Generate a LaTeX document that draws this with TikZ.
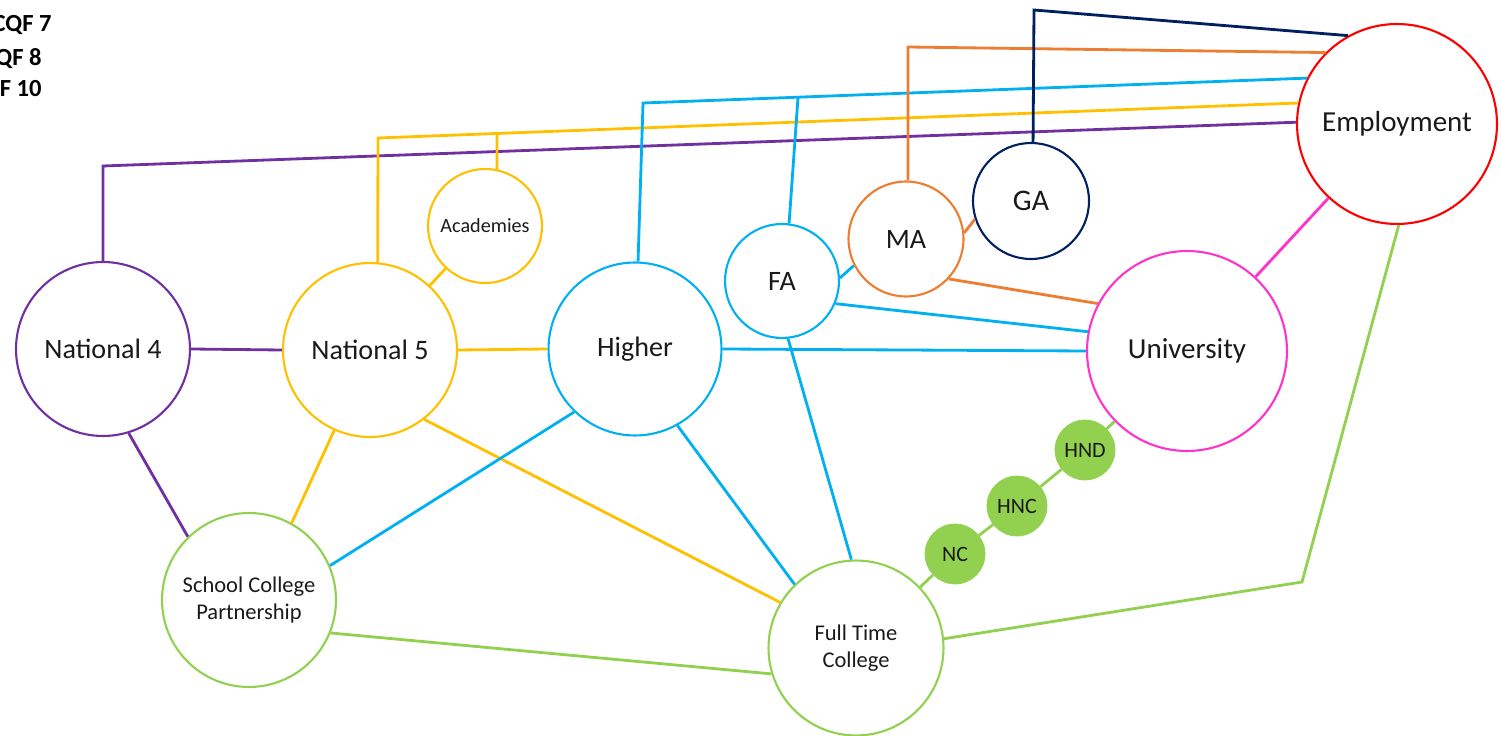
\documentclass[tikz,border=0pt]{standalone}
\usepackage{fontspec}
\setmainfont{Carlito}
\definecolor{cpurple}{HTML}{7030A0}
\definecolor{cyellow}{HTML}{FFC000}
\definecolor{cblue}{HTML}{00B0F0}
\definecolor{corange}{HTML}{ED7D31}
\definecolor{cnavy}{HTML}{002060}
\definecolor{cpink}{HTML}{FF33CC}
\definecolor{cgreen}{HTML}{92D050}
\definecolor{cred}{HTML}{FF0000}
\definecolor{ctext}{HTML}{1A1A1A}
\tikzset{
  bub/.style={circle, draw, line width=1.2pt, fill=white, inner sep=0pt, text=ctext, align=center},
  big/.style={bub, minimum size=3.48cm, font=\fontsize{16}{19}\selectfont},
  small/.style={bub, minimum size=2.28cm, font=\fontsize{16}{19}\selectfont},
  huge/.style={bub, minimum size=4.0cm, font=\fontsize{16.5}{19}\selectfont},
  qual/.style={circle, draw=cgreen, fill=cgreen, inner sep=0pt, minimum size=1.2cm, text=ctext, font=\fontsize{12.5}{15}\selectfont},
  con/.style={line width=1.6pt, line join=miter},
  scqf/.style={anchor=base east, font=\bfseries\fontsize{14}{16}\selectfont, text=black, inner sep=0pt}
}
\begin{document}
\begin{tikzpicture}[x=0.02cm, y=-0.02cm]
\useasboundingbox (0,0) rectangle (1501,736);
\clip (0,0) rectangle (1501,736);

% labels at top left (cut by the picture edge, as in the reference)
\node[scqf] (s7) at (52,32) {SCQF 7};
\node[scqf] (s8) at (42,66) {SCQF 8};
\node[scqf] (s10) at (42,97) {SCQF 10};

% nodes
\node[big, draw=cpurple] (n4) at (103,349) {National 4};
\node[big, draw=cyellow] (n5) at (370,350) {National 5};
\node[big, draw=cblue, minimum size=3.46cm] (hi) at (635,349) {Higher};
\node[small, draw=cyellow, font=\fontsize{11.5}{14}\selectfont] (acad) at (485,226) {Academies};
\node[small, draw=cblue] (fa) at (782,281) {FA};
\node[small, draw=corange, minimum size=2.3cm] (ma) at (906,239) {MA};
\node[small, draw=cnavy, minimum size=2.32cm, font=\fontsize{17}{19}\selectfont] (ga) at (1031,201) {GA};
\node[huge, draw=cred] (emp) at (1397,124) {Employment};
\node[huge, draw=cpink] (uni) at (1187,351) {University};
\node[big, draw=cgreen, font=\fontsize{12.8}{15.3}\selectfont] (scp) at (249,600) {School College\\Partnership};
\node[big, draw=cgreen, minimum size=3.5cm, font=\fontsize{12.8}{15.3}\selectfont] (ftc) at (856,648) {Full Time\\College};
\node[qual] (nc) at (955,554) {NC};
\node[qual] (hnc) at (1017,506) {HNC};
\node[qual] (hnd) at (1085,450) {HND};

% bend points
\coordinate (p1) at (103,166);
\coordinate (y1) at (378,138);
\coordinate (y2) at (497,133.5);
\coordinate (b1) at (643,103);
\coordinate (b2) at (798,97.4);
\coordinate (o1) at (908,47);
\coordinate (v1) at (1034,10);
\coordinate (g1) at (1302,582);

% purple
\draw[con, cpurple] (n4.north) -- (p1) -- (emp.179);
\draw[con, cpurple] (n4.east) -- (n5.west);
\draw[con, cpurple] (n4.-73) -- (scp.134);

% yellow
\draw[con, cyellow] (n5.85) -- (y1) -- (emp.168);
\draw[con, cyellow] (acad.78) -- (y2);
\draw[con, cyellow] (n5) -- (acad);
\draw[con, cyellow] (n5.east) -- (hi.west);
\draw[con, cyellow] (n5.-114) -- (scp.61);
\draw[con, cyellow] (n5.-52) -- (ftc.149);

% blue
\draw[con, cblue] (hi.88) -- (b1) -- (emp.153);
\draw[con, cblue] (fa.83) -- (b2);
\draw[con, cblue] (hi.east) -- (uni.west);
\draw[con, cblue] (hi.-134) -- (scp.23);
\draw[con, cblue] (hi.-61) -- (ftc.134);
\draw[con, cblue] (fa.-84) -- (ftc.93);
\draw[con, cblue] (fa.-23) -- (uni.169);
\draw[con, cblue] (fa.3) -- (ma.207);

% orange
\draw[con, corange] (ma.88) -- (o1) -- (emp.135);
\draw[con, corange] (ma.-43) -- (uni.152);
\draw[con, corange] (ma.6) -- (ga.198);

% navy
\draw[con, cnavy] (ga.88) -- (v1) -- (emp.119);

% pink
\draw[con, cpink] (uni) -- (emp);

% green
\draw[con, cgreen] (scp.-22) -- (ftc.197);
\draw[con, cgreen] (ftc.6) -- (g1) -- (emp.-89);
\draw[con, cgreen] (ftc) -- (nc);
\draw[con, cgreen] (nc) -- (hnc);
\draw[con, cgreen] (hnc) -- (hnd);
\draw[con, cgreen] (hnd) -- (uni);
\end{tikzpicture}
\end{document}
